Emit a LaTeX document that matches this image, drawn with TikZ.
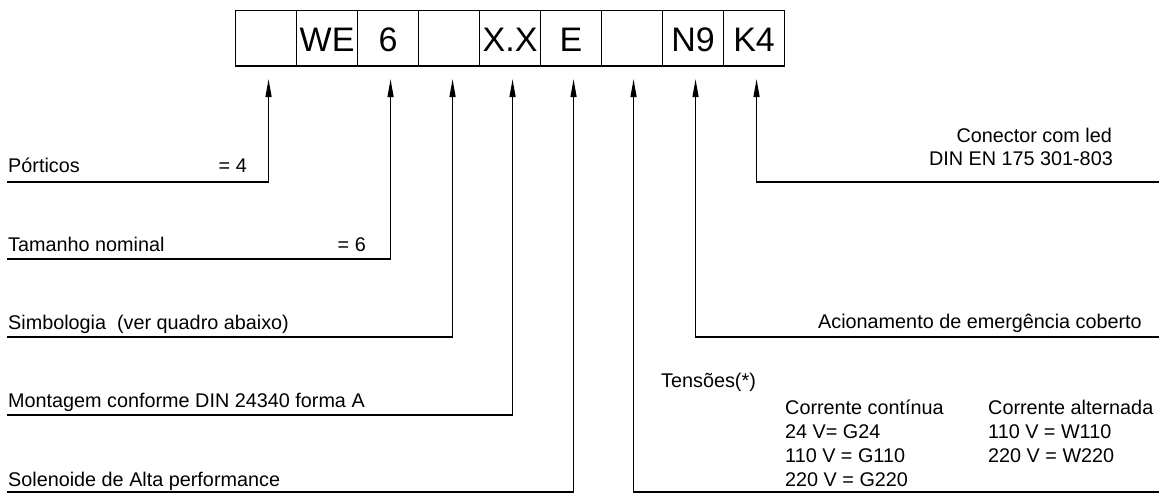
\documentclass[tikz,border=0pt]{standalone}
\usepackage{fontspec}
\setmainfont{Liberation Sans}
\usetikzlibrary{arrows.meta}
\begin{document}
\begin{tikzpicture}[x=1pt,y=-1pt,
  cell/.style={draw, line width=1.1pt, minimum width=61pt, minimum height=55pt, inner sep=0pt,
    anchor=north west, font=\fontsize{34}{34}\selectfont, text height=27pt, text depth=0pt},
  lbl/.style={inner sep=0pt, font=\fontsize{19.8}{24}\selectfont},
  conn/.style={line width=1.3pt, -{Triangle[length=18pt,width=6pt]}},
]
\useasboundingbox (0,0) rectangle (1159,493);
% code boxes
\node[cell] (b1) at (235,10) {};
\node[cell] (b2) at (296,10) {WE};
\node[cell] (b3) at (357,10) {6};
\node[cell] (b4) at (418,10) {};
\node[cell] (b5) at (479,10) {X.X};
\node[cell] (b6) at (540,10) {E};
\node[cell] (b7) at (601,10) {};
\node[cell] (b8) at (662,10) {N9};
\node[cell] (b9) at (723,10) {K4};
\draw[line width=2pt] (b1.south west) -- (b9.south east);

% left labels
\node[lbl, anchor=base west] (tp) at (8,172) {Pórticos};
\node[lbl, anchor=base east] (tpv) at (247,172) {= 4};
\coordinate (cp) at (7,182);
\draw[conn] (cp) -| ([shift={(2.5,13)}]b1.south);

\node[lbl, anchor=base west] (tt) at (8,251) {Tamanho nominal};
\node[lbl, anchor=base east] (ttv) at (366,251) {= 6};
\coordinate (ct) at (7,259);
\draw[conn] (ct) -| ([shift={(2.5,13)}]b3.south);

\node[lbl, anchor=base west] (ts) at (8,329) {Simbologia\ \ (ver quadro abaixo)};
\coordinate (cs) at (7,337);
\draw[conn] (cs) -| ([shift={(3.5,13)}]b4.south);

\node[lbl, anchor=base west] (tm) at (8,407) {Montagem conforme DIN 24340 forma A};
\coordinate (cm) at (7,415);
\draw[conn] (cm) -| ([shift={(2.5,13)}]b5.south);

\node[lbl, anchor=base west] (tso) at (8,486) {Solenoide de Alta performance};
\coordinate (cso) at (7,492);
\draw[conn] (cso) -| ([shift={(2.5,13)}]b6.south);

% right labels
\node[lbl, anchor=base east] (tk1) at (1112,142) {Conector com led};
\node[lbl, anchor=base east] (tk2) at (1113,165) {DIN EN 175 301-803};
\coordinate (ck) at (1159,182);
\draw[conn] (ck) -| ([shift={(2.5,13)}]b9.south);

\node[lbl, anchor=base east] (tn) at (1142,328) {Acionamento de emergência coberto};
\coordinate (cn) at (1159,337);
\draw[conn] (cn) -| ([shift={(2.5,13)}]b8.south);

\node[lbl, anchor=base west] (tv) at (661,387) {Tensões(*)};
\node[lbl, anchor=base west] (dc0) at (785,414) {Corrente contínua};
\node[lbl, anchor=base west] (dc1) at (785,438) {24 V= G24};
\node[lbl, anchor=base west] (dc2) at (785,462) {110 V = G110};
\node[lbl, anchor=base west] (dc3) at (785,486) {220 V = G220};
\node[lbl, anchor=base west] (ac0) at (988,414) {Corrente alternada};
\node[lbl, anchor=base west] (ac1) at (988,438) {110 V = W110};
\node[lbl, anchor=base west] (ac2) at (988,462) {220 V = W220};
\coordinate (cv) at (1159,492);
\draw[conn] (cv) -| ([shift={(1.5,13)}]b7.south);
\end{tikzpicture}
\end{document}
